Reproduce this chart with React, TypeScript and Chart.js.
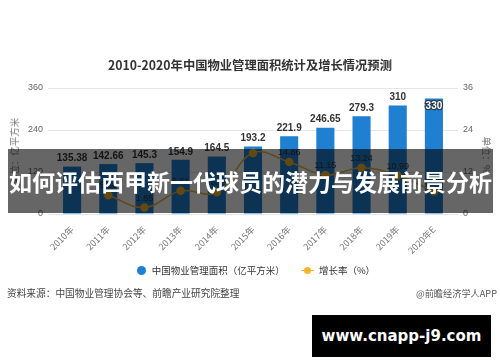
import React, { useEffect, useRef } from "react";
import { Chart, registerables } from "chart.js";

Chart.register(...registerables);

const years = ["2010年", "2011年", "2012年", "2013年", "2014年", "2015年", "2016年", "2017年", "2018年", "2019年", "2020年E"];
const areaValues = [135.38, 142.66, 145.3, 154.9, 164.5, 193.2, 221.9, 246.65, 279.3, 310, 330];
const growthValues: (number | null)[] = [null, 5.38, 1.85, 6.61, 6.2, 17.45, 14.86, 11.15, 13.24, 10.99, 6.45];
const areaAxis = { min: 0, max: 360, step: 120 };
const growthAxis = { min: 0, max: 36, step: 12 };

const titleText = "2010-2020年中国物业管理面积统计及增长情况预测";
const areaLabel = "中国物业管理面积（亿平方米）";
const growthLabel = "增长率（%）";
const leftUnit = "单位：亿平方米";
const rightUnit = "单位：%";
const sourceText = "资料来源：中国物业管理协会等、前瞻产业研究院整理";
const creditText = "@前瞻经济学人APP";
const bannerText = "如何评估西甲新一代球员的潜力与发展前景分析";
const siteText = "www.cnapp-j9.com";

const BLUE = "#1f7fd0";
const GOLD = "#e9b53a";
const FONT = '"Liberation Sans", "Noto Sans CJK SC", sans-serif';
const CJK = '"Noto Sans CJK SC", "Liberation Sans", sans-serif';

const labelPlugin = {
  id: "valueLabels",
  afterDatasetsDraw(chart: any) {
    const ctx = chart.ctx;
    ctx.save();
    ctx.textAlign = "center";
    const boxes: { x1: number; x2: number; y1: number; y2: number }[] = [];
    const barMeta = chart.getDatasetMeta(0);
    barMeta.data.forEach((el: any, i: number) => {
      const v = areaValues[i];
      const t = String(v);
      ctx.font = `bold 10px ${FONT}`;
      const w = ctx.measureText(t).width;
      if (v / areaAxis.max > 0.9) {
        ctx.textBaseline = "top";
        ctx.lineWidth = 2.5;
        ctx.strokeStyle = "#2a3a4a";
        ctx.strokeText(t, el.x, el.y + 3);
        ctx.fillStyle = "#ffffff";
        ctx.fillText(t, el.x, el.y + 3);
        boxes.push({ x1: el.x - w / 2, x2: el.x + w / 2, y1: el.y + 3, y2: el.y + 14 });
      } else {
        ctx.textBaseline = "bottom";
        ctx.fillStyle = "#333333";
        ctx.fillText(t, el.x, el.y - 3);
        boxes.push({ x1: el.x - w / 2, x2: el.x + w / 2, y1: el.y - 14, y2: el.y - 3 });
      }
    });
    const lineMeta = chart.getDatasetMeta(1);
    lineMeta.data.forEach((el: any, i: number) => {
      const v = growthValues[i];
      if (v === null || v === undefined) return;
      const t = String(v);
      ctx.font = `9px ${FONT}`;
      const w = ctx.measureText(t).width;
      const b = { x1: el.x - w / 2, x2: el.x + w / 2, y1: el.y - 15, y2: el.y - 5 };
      const hit = boxes.some((o) => b.x1 < o.x2 && b.x2 > o.x1 && b.y1 < o.y2 && b.y2 > o.y1);
      if (hit) return;
      ctx.textBaseline = "bottom";
      ctx.fillStyle = "#333333";
      ctx.fillText(t, el.x, el.y - 5);
    });
    ctx.restore();
  },
};

export default function App() {
  const canvasRef = useRef<HTMLCanvasElement | null>(null);

  useEffect(() => {
    if (!canvasRef.current) return;
    const chart = new Chart(canvasRef.current, {
      type: "bar",
      data: {
        labels: years,
        datasets: [
          {
            type: "bar",
            label: areaLabel,
            data: areaValues,
            backgroundColor: BLUE,
            barPercentage: 0.5,
            categoryPercentage: 1,
            yAxisID: "y",
            order: 2,
          },
          {
            type: "line",
            label: growthLabel,
            data: growthValues,
            borderColor: GOLD,
            backgroundColor: GOLD,
            pointBackgroundColor: "#f6b52c",
            pointBorderColor: "#f6b52c",
            pointRadius: 3.5,
            borderWidth: 1.5,
            tension: 0.4,
            yAxisID: "y1",
            order: 1,
          } as any,
        ],
      },
      options: {
        animation: false,
        responsive: false,
        maintainAspectRatio: false,
        layout: { padding: { top: 88, left: 0, right: 0, bottom: 0 } },
        plugins: {
          legend: { display: false },
          tooltip: { enabled: false },
          title: { display: false },
        },
        scales: {
          x: {
            grid: { display: false },
            border: { display: false },
            ticks: {
              minRotation: 45,
              maxRotation: 45,
              padding: 2,
              color: "#777777",
              font: { size: 9, family: CJK },
            },
            afterFit(axis: any) {
              axis.height = 148;
            },
          },
          y: {
            position: "left",
            min: areaAxis.min,
            max: areaAxis.max,
            ticks: {
              stepSize: areaAxis.step,
              padding: 5,
              color: "#666666",
              font: { size: 9, family: FONT },
            },
            grid: { color: "#e6e6e6", tickLength: 6, tickColor: "#e6e6e6" },
            border: { display: false },
            afterFit(axis: any) {
              axis.width = 54;
            },
          },
          y1: {
            position: "right",
            min: growthAxis.min,
            max: growthAxis.max,
            ticks: {
              stepSize: growthAxis.step,
              padding: 5,
              color: "#666666",
              font: { size: 9, family: FONT },
            },
            grid: { drawOnChartArea: false, tickLength: 6, color: "#e6e6e6" },
            border: { display: false },
            afterFit(axis: any) {
              axis.width = 48;
            },
          },
        },
      },
      plugins: [labelPlugin],
    } as any);
    return () => chart.destroy();
  }, []);

  const abs = (s: React.CSSProperties): React.CSSProperties => ({ position: "absolute", ...s });

  return (
    <div style={{ position: "absolute", left: 0, top: 0, width: 500, height: 362, background: "#ffffff", overflow: "hidden" }}>
      <canvas ref={canvasRef} width={500} height={362} style={{ position: "absolute", left: 0, top: 0, width: 500, height: 362 }} />
      <div style={abs({ left: 0, top: 56, width: 500, textAlign: "center", font: `bold 12.3px ${CJK}`, color: "#333", lineHeight: "18px" })}>
        {titleText}
      </div>
      <div style={abs({ left: 14, top: 151, transform: "translate(-50%, -50%) rotate(-90deg)", whiteSpace: "nowrap", font: `9.5px ${CJK}`, color: "#777" })}>
        {leftUnit}
      </div>
      <div style={abs({ left: 487, top: 155, transform: "translate(-50%, -50%) rotate(90deg)", whiteSpace: "nowrap", font: `9.5px ${CJK}`, color: "#777" })}>
        {rightUnit}
      </div>
      <div style={abs({ left: 6, top: 262, width: 500, display: "flex", justifyContent: "center", alignItems: "center", font: `9.5px ${CJK}`, color: "#333", lineHeight: "16px" })}>
        <span style={{ display: "inline-block", width: 9, height: 9, borderRadius: "50%", background: BLUE, marginRight: 6 }} />
        <span>{areaLabel}</span>
        <span style={{ display: "inline-block", position: "relative", width: 13, height: 9, marginLeft: 16, marginRight: 5 }}>
          <span style={{ position: "absolute", left: 0, top: 4, width: 13, height: 1.5, background: GOLD }} />
          <span style={{ position: "absolute", left: 3, top: 1.5, width: 7, height: 7, borderRadius: "50%", background: "#f6b52c" }} />
        </span>
        <span>{growthLabel}</span>
      </div>
      <div style={abs({ left: 7, top: 285, font: `9.7px ${CJK}`, color: "#444", whiteSpace: "nowrap", lineHeight: "16px" })}>{sourceText}</div>
      <div style={abs({ right: 3, top: 285, font: `9.2px ${CJK}`, color: "#555", whiteSpace: "nowrap", lineHeight: "16px" })}>{creditText}</div>
      <div style={abs({ left: 8, top: 149, width: 485, height: 64, background: "rgba(0,0,0,0.6)", display: "flex", alignItems: "center", justifyContent: "center" })}>
        <span style={{ font: `bold 23px ${CJK}`, color: "#ffffff", whiteSpace: "nowrap", letterSpacing: 0 }}>{bannerText}</span>
      </div>
      <div style={abs({ left: 312, top: 315, width: 179, height: 42, background: "#000", display: "flex", alignItems: "center", justifyContent: "center" })}>
        <span style={{ font: `bold 15px "DejaVu Sans", sans-serif`, color: "#fff", whiteSpace: "nowrap" }}>{siteText}</span>
      </div>
    </div>
  );
}
